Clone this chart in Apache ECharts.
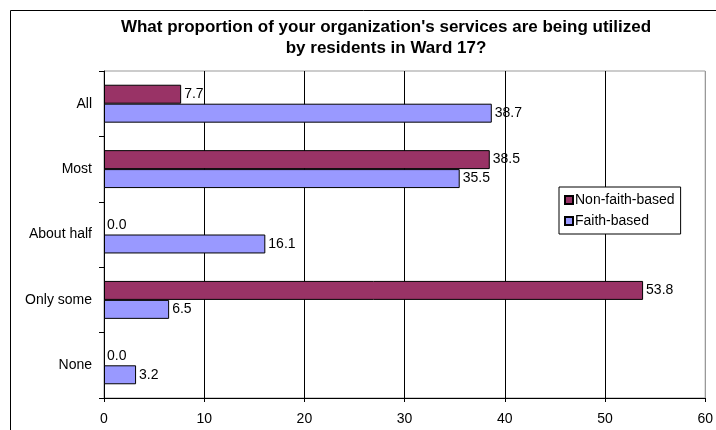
<!DOCTYPE html>
<html>
<head>
<meta charset="utf-8">
<script src="https://cdn.jsdelivr.net/npm/echarts@6/dist/echarts.min.js"></script>
<style>html,body{margin:0;padding:0;background:#fff;}#c{width:716px;height:430px;}</style>
</head>
<body>
<div id="c"></div>
<script>
var categories = ['All', 'Most', 'About half', 'Only some', 'None'];
var nonFaith = [7.7, 38.5, 0.0, 53.8, 0.0];
var faith = [38.7, 35.5, 16.1, 6.5, 3.2];
var seriesNames = ['Non-faith-based', 'Faith-based'];
var xTicks = [0, 10, 20, 30, 40, 50, 60];
var titleLines = ["What proportion of your organization's services are being utilized", 'by residents in Ward 17?'];

var FONT = '"Liberation Sans", Arial, sans-serif';
var chart = echarts.init(document.getElementById('c'), null, {renderer: 'canvas'});
var lbl = {show: true, position: 'right', distance: 3, color: '#000', fontFamily: FONT, fontSize: 14,
  formatter: function (p) { return p.value.toFixed(1); }};
function toData(arr) {
  return arr.map(function (v) { return {value: v, itemStyle: {borderWidth: v === 0 ? 0 : 1}}; });
}
chart.setOption({
  animation: false,
  backgroundColor: '#fff',
  textStyle: {fontFamily: FONT},
  title: {
    text: titleLines.join('\n'),
    left: 381, top: 12, textAlign: 'center',
    textStyle: {fontFamily: FONT, fontSize: 17, fontWeight: 'bold', color: '#000', lineHeight: 21}
  },
  graphic: [{
    type: 'rect', shape: {x: 10.5, y: 10.5, width: 720, height: 430},
    style: {fill: 'none', stroke: '#000', lineWidth: 1}, z: -1
  }],
  legend: {
    orient: 'vertical', left: 559, top: 187, width: 120,
    data: seriesNames, itemWidth: 8, itemHeight: 8, itemGap: 7, icon: 'rect',
    padding: [6, 6, 6, 5], borderColor: '#000', borderWidth: 1, backgroundColor: '#fff',
    textStyle: {fontFamily: FONT, fontSize: 14, color: '#000', padding: [0, 0, 0, -3]}
  },
  grid: {left: 104, right: 7, top: 71, bottom: 32, show: true, borderColor: '#999', borderWidth: 1},
  xAxis: {
    type: 'value', min: 0, max: 60, interval: 10,
    axisLine: {show: true, lineStyle: {color: '#000'}},
    axisTick: {show: true, length: 4, lineStyle: {color: '#000'}},
    axisLabel: {color: '#000', fontFamily: FONT, fontSize: 14, margin: 14},
    splitLine: {show: true, lineStyle: {color: ['#000', '#000', '#000', '#000', '#000', '#000', '#999'], width: 1}}
  },
  yAxis: {
    type: 'category', data: categories, inverse: true,
    axisLine: {show: true, lineStyle: {color: '#000'}},
    axisTick: {show: true, length: 5, lineStyle: {color: '#000'}},
    axisLabel: {color: '#000', fontFamily: FONT, fontSize: 14, margin: 12},
    splitLine: {show: false}
  },
  series: [
    {name: seriesNames[0], type: 'bar', data: toData(nonFaith), barGap: '0%', barCategoryGap: '42%',
     itemStyle: {color: '#993366', borderColor: '#000', borderWidth: 1}, label: lbl},
    {name: seriesNames[1], type: 'bar', data: toData(faith), barGap: '0%', barCategoryGap: '42%',
     itemStyle: {color: '#9999FF', borderColor: '#000', borderWidth: 1}, label: lbl}
  ]
});
</script>
</body>
</html>
